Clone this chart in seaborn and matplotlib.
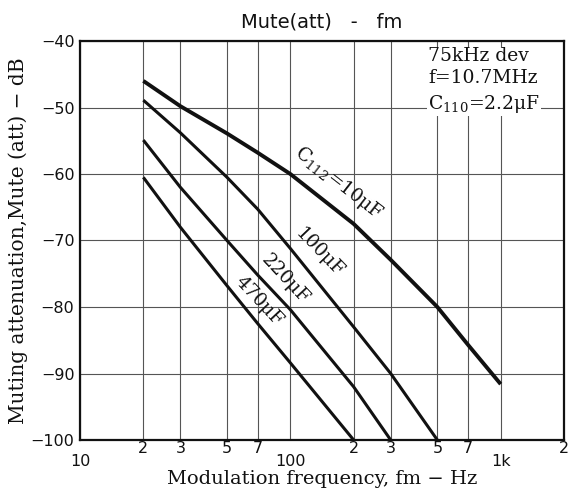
import matplotlib
matplotlib.use("Agg")
import matplotlib.pyplot as plt
import seaborn as sns
import pandas as pd
import numpy as np

# ---- data ----
freq_10uF = [20, 30, 50, 70, 100, 200, 300, 500, 700, 1000]
att_10uF = [-46.0, -49.8, -53.9, -56.8, -60.0, -67.5, -72.9, -80.0, -85.7, -91.6]

freq_100uF = [20, 30, 50, 70, 100, 200, 300, 500]
att_100uF = [-48.9, -53.8, -60.5, -65.3, -71.2, -83.0, -90.0, -100.0]

freq_220uF = [20, 30, 50, 70, 100, 200, 300]
att_220uF = [-54.9, -62.0, -70.0, -75.2, -80.4, -92.0, -100.0]

freq_470uF = [20, 30, 50, 70, 100, 200]
att_470uF = [-60.5, -68.0, -76.8, -82.5, -88.4, -100.0]

series_names = ["10", "100", "220", "470"]

x_major_ticks = [10, 100, 1000]
x_major_labels = ["10", "100", "1k"]
x_minor_ticks = [20, 30, 50, 70, 200, 300, 500, 700, 2000]
x_minor_labels = ["2", "3", "5", "7", "2", "3", "5", "7", "2"]
y_ticks = [-100, -90, -80, -70, -60, -50, -40]
y_labels = ["\u2212100", "\u221290", "\u221280", "\u221270", "\u221260", "\u221250", "\u221240"]

frames = []
for name, f, a in zip(series_names,
                      [freq_10uF, freq_100uF, freq_220uF, freq_470uF],
                      [att_10uF, att_100uF, att_220uF, att_470uF]):
    frames.append(pd.DataFrame({"f": f, "dB": a, "C": name}))
df = pd.concat(frames, ignore_index=True)

sns.set_theme(style="white")
plt.rcParams["font.family"] = ["DejaVu Sans"]
plt.rcParams["mathtext.fontset"] = "dejavuserif"

fig = plt.figure(figsize=(5.72, 4.91), dpi=100)
L, R, T, B = 80, 564, 41, 440
ax = fig.add_axes([L / 572, 1 - B / 491, (R - L) / 572, (B - T) / 491])

widths = {"10": 2.8, "100": 2.2, "220": 2.2, "470": 2.2}
for name in series_names:
    sub = df[df["C"] == name]
    sns.lineplot(data=sub, x="f", y="dB", ax=ax, color="#111111",
                 linewidth=widths[name], legend=False, sort=True,
                 solid_capstyle="butt", zorder=3)

ax.set_xscale("log")
ax.set_xlim(10, 2000)
ax.set_ylim(-100, -40)

ax.set_xticks(x_major_ticks)
ax.set_xticklabels(x_major_labels)
ax.set_xticks(x_minor_ticks, minor=True)
ax.set_xticklabels(x_minor_labels, minor=True)
ax.set_yticks(y_ticks)
ax.set_yticklabels(y_labels)

ax.tick_params(axis="x", which="major", length=0, pad=10, labelsize=11.5, colors="#111111")
ax.tick_params(axis="x", which="minor", length=0, pad=1, labelsize=11.5, colors="#111111")
ax.tick_params(axis="y", which="major", length=0, pad=4, labelsize=11.5, colors="#111111")

ax.grid(True, which="both", axis="x", color="#555555", linewidth=0.8)
ax.grid(True, which="major", axis="y", color="#555555", linewidth=0.8)

for sp in ax.spines.values():
    sp.set_color("#111111")
    sp.set_linewidth(1.6)

serif = ["DejaVu Serif"]
ax.set_xlabel("Modulation frequency, fm \u2212 Hz", family=serif, fontsize=14,
              color="#111111", labelpad=1)
ax.set_ylabel("Muting attenuation,Mute (att) \u2212 dB", family=serif, fontsize=14.5,
              color="#111111", labelpad=2)
ax.set_title("Mute(att)   -   fm", fontsize=14, color="#111111", pad=10)

# info block
ax.text((428 - L) / (R - L), 0.985, "75kHz dev\nf=10.7MHz\nC$_{110}$=2.2\u03bcF",
        transform=ax.transAxes, ha="left", va="top", family=serif, fontsize=13.5,
        color="#111111", linespacing=1.32, zorder=4,
        bbox=dict(facecolor="white", edgecolor="none", pad=1))

# curve labels
lab_kw = dict(family=serif, fontsize=13.5, color="#111111", ha="center", va="center",
              rotation_mode="anchor", zorder=4)
ax.text(170, -61.4, "C$_{112}$=10\u03bcF", rotation=-38, **lab_kw)
ax.text(138, -71.8, "100\u03bcF", rotation=-46, **lab_kw)
ax.text(94, -75.8, "220\u03bcF", rotation=-47, **lab_kw)
ax.text(71, -79.2, "470\u03bcF", rotation=-47, **lab_kw)

fig.savefig("out.png", dpi=100)
